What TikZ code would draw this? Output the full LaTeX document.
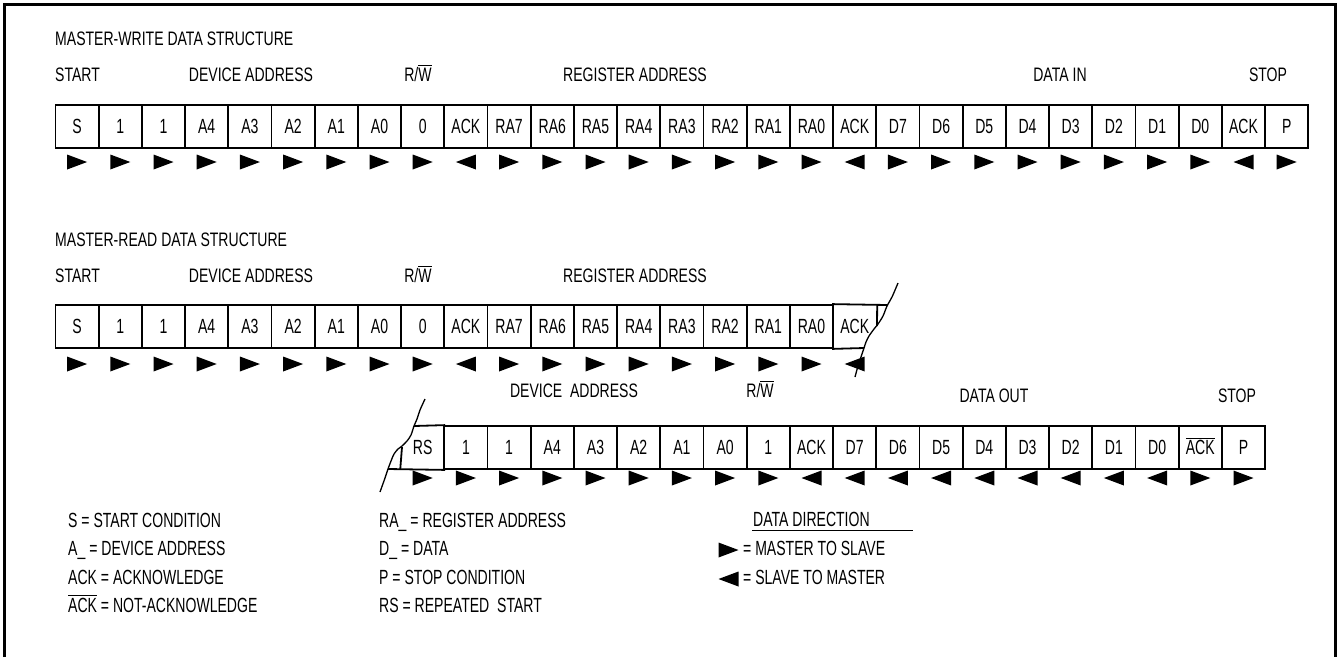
\documentclass[tikz,border=0pt]{standalone}
\usepackage{fontspec}
\setmainfont{Liberation Sans}[FakeStretch=0.72]
\newfontfamily\bigfont{Liberation Sans}[FakeStretch=0.685]
\usetikzlibrary{calc}
\newcommand\ovl[1]{\leavevmode\vbox{\hrule height 1.3pt\kern 1.6pt\hbox{#1}}}
\tikzset{
  txt/.style={inner sep=0pt, font=\fontsize{19.5}{22}\selectfont},
  bigtxt/.style={inner sep=0pt, font=\bigfont\fontsize{20.5}{23}\selectfont},
  cellshape/.style={bigtxt, line width=1.8pt, minimum width=43.2pt, minimum height=43pt,
    text height=14.7pt, text depth=0pt, anchor=center},
  cell/.style={cellshape, draw},
  opencell/.style={cellshape},
  lbl/.style={txt, anchor=base},
  lblw/.style={txt, anchor=base west},
  leg/.style={bigtxt, anchor=base west},
  edge/.style={line width=1.8pt},
  breakline/.style={line width=1.3pt},
  frame/.style={line width=3pt},
  rarr/.pic={\fill (-10,-7.5) -- (10,0) -- (-10,7.5) -- cycle;},
  larr/.pic={\fill (10,-7.5) -- (-10,0) -- (10,7.5) -- cycle;},
}
\begin{document}
\begin{tikzpicture}[x=1pt,y=-1pt]
\useasboundingbox (0,0) rectangle (1341,657);
\draw[frame] (4,657) -- (4,4) -- (1335,4) -- (1335,657);

% ---------- MASTER-WRITE ----------
\node[lblw] (wtitle) at (55,45) {MASTER-WRITE DATA STRUCTURE};
\node[lblw] (wstart) at (55,81) {START};
\node[lbl] (wdev) at (251,81) {DEVICE ADDRESS};
\node[lbl] (wrw) at (418,81) {R/\ovl{W}};
\node[lbl] (wreg) at (635,81) {REGISTER ADDRESS};
\node[lbl] (wdin) at (1060,81) {DATA IN};
\node[lbl] (wstop) at (1268,81) {STOP};
\foreach \t [count=\i] in {S,1,1,A4,A3,A2,A1,A0,0,ACK,RA7,RA6,RA5,RA4,RA3,RA2,RA1,RA0,ACK,D7,D6,D5,D4,D3,D2,D1,D0,ACK,P}
  \node[cell] (w\i) at ({33.9+43.2*\i},126.5) {\t};
\foreach \i in {1,...,9,11,12,...,18,20,21,...,27,29}
  \pic at (w\i |- 0,162) {rarr};
\foreach \i in {10,19,28}
  \pic at (w\i |- 0,162) {larr};

% ---------- MASTER-READ ----------
\node[lblw] (rtitle) at (55,246) {MASTER-READ DATA STRUCTURE};
\node[lblw] (rstart) at (55,282) {START};
\node[lbl] (rdev) at (251,282) {DEVICE ADDRESS};
\node[lbl] (rrw) at (418,282) {R/\ovl{W}};
\node[lbl] (rreg) at (635,282) {REGISTER ADDRESS};
\foreach \t [count=\i] in {S,1,1,A4,A3,A2,A1,A0,0,ACK,RA7,RA6,RA5,RA4,RA3,RA2,RA1,RA0}
  \node[cell] (r\i) at ({33.9+43.2*\i},326.5) {\t};
\node[opencell] (r19) at ({33.9+43.2*19},326.5) {ACK};
\coordinate (b1top) at (887,305);
\coordinate (b1bot) at (864,348);
\coordinate (b1mid) at (877,326);
\draw[edge] (r19.north west) -- (b1top);
\draw[edge] (r19.south west) -- (b1bot);
\draw[edge] (r19.north east) -- (b1mid);
\draw[breakline] plot[smooth] coordinates {(898,283) (892,297) (887,306) (883,316) (878,324) (874,329) (869,336) (866,342) (864,348) (861,357) (858,366) (855,377)};
\foreach \i in {1,...,9,11,12,...,18}
  \pic at (r\i |- 0,364) {rarr};
\foreach \i in {10,19}
  \pic at (r\i |- 0,364) {larr};

% ---------- continuation ----------
\node[lbl] (tdev) at (574,397) {DEVICE~~ADDRESS};
\node[lbl] (trw) at (760,397) {R/\ovl{W}};
\node[lbl] (tdout) at (994,402) {DATA OUT};
\node[lbl] (tstop) at (1237,402) {STOP};
\node[opencell] (t1) at ({33.9+43.2*9},447.5) {RS};
\foreach \t [count=\i from 2] in {1,1,A4,A3,A2,A1,A0,1,ACK,D7,D6,D5,D4,D3,D2,D1,D0,\ovl{ACK},P}
  \node[cell] (t\i) at ({33.9+43.2*(8+\i)},447.5) {\t};
\coordinate (b2top) at (414,426);
\coordinate (b2bot) at (388,469);
\coordinate (b2mid) at (402,447);
\draw[edge] (b2top) -- (t1.north east);
\draw[edge] (b2bot) -- (t1.south east);
\draw[edge] (t1.south west) -- (b2mid);
\draw[breakline] plot[smooth] coordinates {(425,399) (420,410) (417,419) (414,426) (411,435) (407,441) (402,446) (398,449) (394,454) (391,461) (388,469) (385,478) (380,492)};
\foreach \i in {1,...,9,19,20}
  \pic at (t\i |- 0,478) {rarr};
\foreach \i in {10,...,18}
  \pic at (t\i |- 0,478) {larr};

% ---------- legend ----------
\node[leg] (l1) at (68,527) {S = START CONDITION};
\node[leg] (l2) at (68,555) {A\_ = DEVICE ADDRESS};
\node[leg] (l3) at (68,584) {ACK = ACKNOWLEDGE};
\node[leg] (l4) at (68,612) {\ovl{ACK} = NOT-ACKNOWLEDGE};
\node[leg] (m1) at (379,527) {RA\_ = REGISTER ADDRESS};
\node[leg] (m2) at (379,555) {D\_ = DATA};
\node[leg] (m3) at (379,584) {P = STOP CONDITION};
\node[leg] (m4) at (379,612) {RS = REPEATED~~START};
\node[leg] (ddir) at (753,526) {DATA DIRECTION};
\draw[edge] (752,530.5) -- (913,530.5);
\pic at (728.5,550) {rarr};
\node[leg] (dms) at (743,555) {= MASTER TO SLAVE};
\pic at (728.5,579) {larr};
\node[leg] (dsm) at (743,584) {= SLAVE TO MASTER};
\end{tikzpicture}
\end{document}
